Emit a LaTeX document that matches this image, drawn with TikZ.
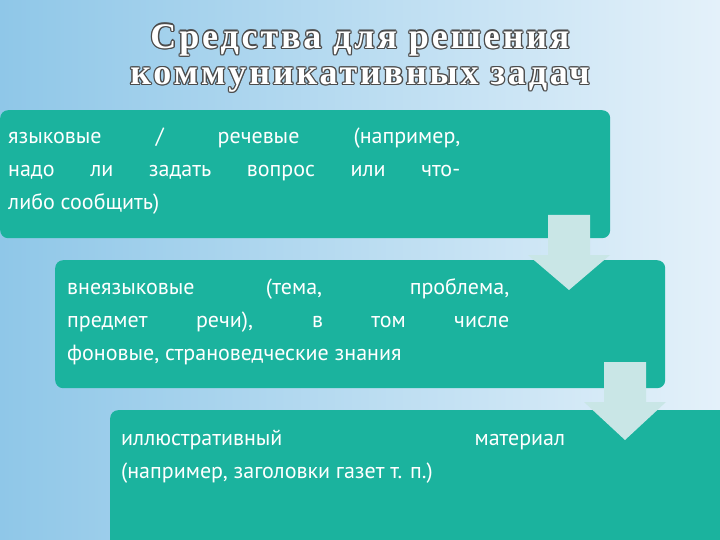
\documentclass[tikz,border=0pt]{standalone}
\usepackage{fontspec}
\setmainfont{PT Sans}
\newfontfamily\titlefont[LetterSpace=8]{Liberation Serif}
\usetikzlibrary{shapes.arrows,calc}
\definecolor{teal1}{HTML}{1BB39E}
\definecolor{bgl}{HTML}{8FC7E8}
\definecolor{bgr}{HTML}{E4F1FA}
\definecolor{arr}{HTML}{C9E6E6}
\tikzset{
 box/.style={fill=teal1,rounded corners=8pt},
 btxt/.style={text=white,anchor=north west,align=justify,inner sep=0pt,font=\fontsize{22}{33}\selectfont},
 darr/.style={fill=arr,draw=none},
}
\begin{document}
\begin{tikzpicture}[x=1pt,y=-1pt]
\useasboundingbox (0,0) rectangle (720,540);
\shade[left color=bgl,right color=bgr] (0,0) rectangle (720,540);
% title
\foreach \l/\t/\yy in {1/{Средства для решения}/40,2/{коммуникативных задач}/80}{
 \foreach \a in {0,45,...,315}{
  \node[text=black!70,font=\titlefont\bfseries\fontsize{36}{36}\selectfont] at ($(360,\yy)+(\a:1.3)$) {\t};}
 \node[text=white,font=\titlefont\bfseries\fontsize{36}{36}\selectfont] (title\l) at (360,\yy) {\t};
}
\node[box,minimum width=610,minimum height=128,anchor=north west,inner sep=0] (b1) at (0,110) {};
\node[box,minimum width=610,minimum height=128,anchor=north west,inner sep=0] (b2) at (55,260) {};
\node[box,minimum width=630,minimum height=140,anchor=north west,inner sep=0] (b3) at (110,410) {};
\node[btxt,text width=452] (t1) at (8,128) {языковые / речевые (например,\linebreak надо ли задать вопрос или что-\linebreak либо сообщить)};
\node[btxt,text width=442] (t2) at (67,278) {внеязыковые (тема, проблема,\linebreak предмет речи), в том числе\linebreak фоновые, страноведческие знания};
\node[btxt,text width=444] (t3) at (121,430) {иллюстративный\hfill материал\\ (например, заголовки газет т. п.)};
\fill[darr] (548,215) -- (590,215) -- (590,255) -- (610,255) -- (569,290) -- (528,255) -- (548,255) -- cycle;
\fill[darr] (604,362) -- (646,362) -- (646,402) -- (666,402) -- (625,440) -- (584,402) -- (604,402) -- cycle;
\end{tikzpicture}
\end{document}
